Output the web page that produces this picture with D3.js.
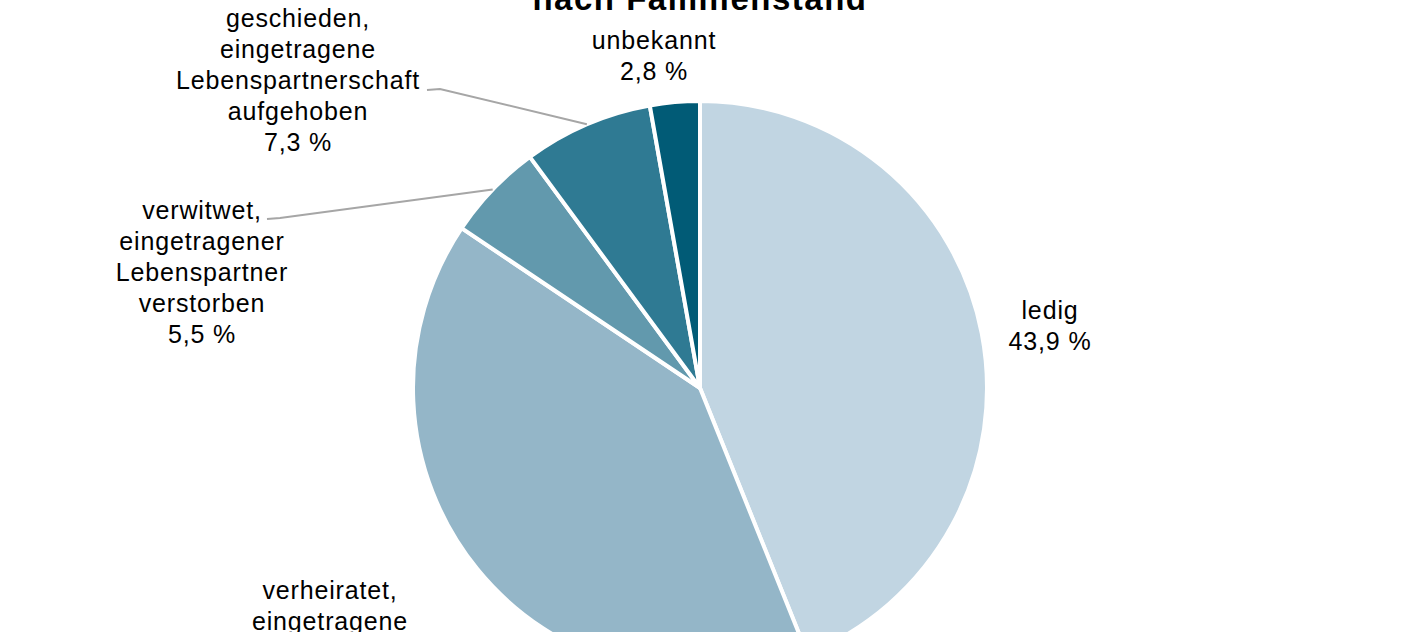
<!DOCTYPE html>
<html>
<head>
<meta charset="utf-8">
<script src="https://cdn.jsdelivr.net/npm/d3@7"></script>
<style>
  body { margin: 0; background: #fff; }
  svg { display: block; font-family: Arial, "Liberation Sans", sans-serif; }
</style>
</head>
<body>
<div id="chart-container"></div>
<script>
var categories = ["ledig", "verheiratet, eingetragene Lebenspartnerschaft", "verwitwet, eingetragener Lebenspartner verstorben", "geschieden, eingetragene Lebenspartnerschaft aufgehoben", "unbekannt"];
var shares = [43.9, 40.5, 5.5, 7.3, 2.8];
var labelLines = [
  ["ledig"],
  ["verheiratet,", "eingetragene", "Lebenspartnerschaft"],
  ["verwitwet,", "eingetragener", "Lebenspartner", "verstorben"],
  ["geschieden,", "eingetragene", "Lebenspartnerschaft", "aufgehoben"],
  ["unbekannt"]
];
var colors = ["#c1d5e2", "#94b6c8", "#6299ad", "#2f7a93", "#015b76"];

var width = 1404, height = 632;
var cx = 700, cy = 388, radius = 287;

// label anchor (centre of first line) relative to pie centre, and leader start
var labelLayout = [
  {dx: 350, dy: -78, leader: null},
  {dx: -370, dy: 202, leader: null},
  {dx: -498, dy: -178, leader: {x: -433, y: -169}},
  {dx: -402, dy: -370, leader: {x: -273, y: -298}},
  {dx: -46, dy: -348, leader: null}
];
var lineH = 31;

var svg = d3.select("#chart-container")
  .append("svg")
    .attr("width", width)
    .attr("height", height);

svg.append("text")
    .attr("x", cx)
    .attr("y", 10)
    .attr("text-anchor", "middle")
    .style("font-weight", "bold")
    .style("font-size", "33px")
    .style("letter-spacing", "1.5px")
    .style("fill", "#000")
    .text("nach Familienstand");

var pie = d3.pie().sort(null).value(function(d) { return d; });
var arcs = pie(shares);

var arc = d3.arc().innerRadius(0).outerRadius(radius);

var g = svg.append("g")
    .attr("transform", "translate(" + cx + "," + cy + ")");

g.selectAll(".slice")
    .data(arcs)
  .enter().append("path")
    .attr("class", "slice")
    .attr("d", arc)
    .style("fill", function(d, i) { return colors[i]; })
    .style("stroke", "#fff")
    .style("stroke-width", 4)
    .style("stroke-linejoin", "round");

// leader lines
g.selectAll(".leader")
    .data(arcs.filter(function(d, i) { return labelLayout[i].leader; }))
  .enter().append("polyline")
    .attr("class", "leader")
    .attr("points", function(d) {
      var L = labelLayout[d.index].leader;
      var a = (d.startAngle + d.endAngle) / 2;
      var ex = Math.sin(a) * radius, ey = -Math.cos(a) * radius;
      return [[L.x, L.y], [L.x + 13, L.y - 1], [ex, ey]].map(function(p) { return p.join(","); }).join(" ");
    })
    .style("fill", "none")
    .style("stroke", "#a6a6a6")
    .style("stroke-width", 2);

var fmt = function(v) { return v.toFixed(1).replace(".", ",") + " %"; };

var labels = g.selectAll(".label")
    .data(arcs)
  .enter().append("text")
    .attr("class", "label")
    .attr("text-anchor", "middle")
    .style("font-size", "25px")
    .style("letter-spacing", "0.85px")
    .style("fill", "#000")
    .attr("transform", function(d, i) {
      return "translate(" + labelLayout[i].dx + "," + labelLayout[i].dy + ")";
    });

labels.each(function(d, i) {
  var t = d3.select(this);
  var lines = labelLines[i].concat([fmt(d.data)]);
  lines.forEach(function(s, k) {
    t.append("tspan")
      .attr("x", 0)
      .attr("y", k * lineH)
      .attr("dy", "0.35em")
      .text(s);
  });
});
</script>
</body>
</html>
